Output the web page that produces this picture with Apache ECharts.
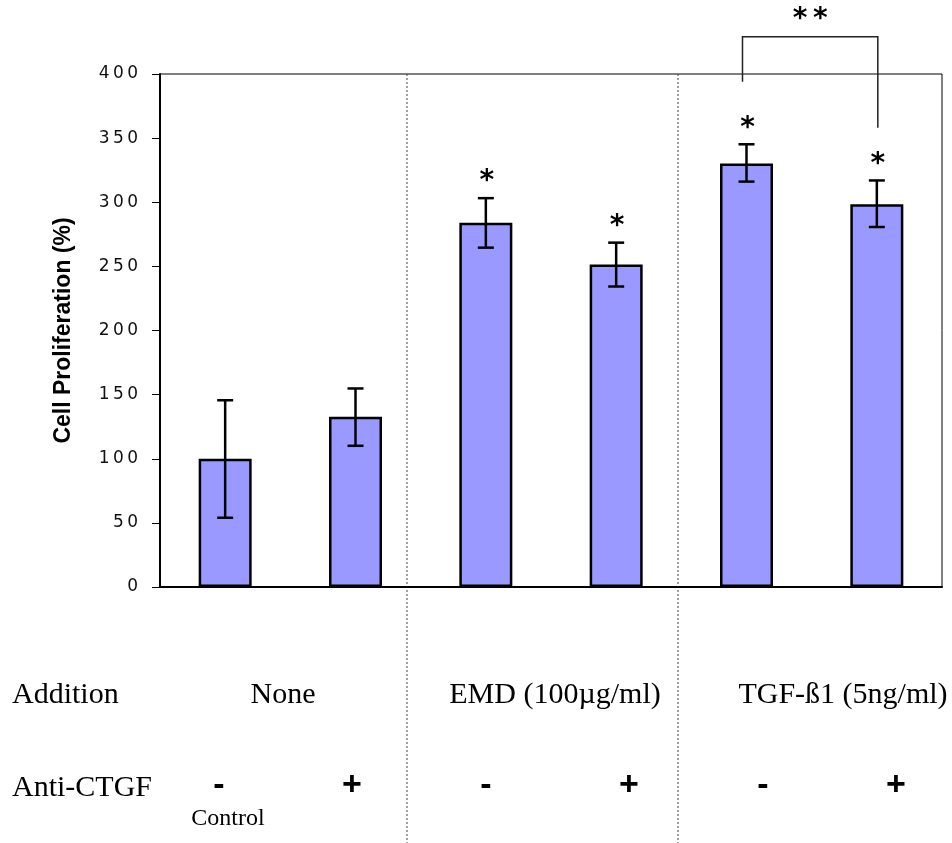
<!DOCTYPE html>
<html>
<head>
<meta charset="utf-8">
<script src="https://cdn.jsdelivr.net/npm/echarts@6/dist/echarts.min.js"></script>
<style>
html,body{margin:0;padding:0;background:#fff;}
#chart{width:952px;height:843px;}
</style>
</head>
<body>
<div id="chart"></div>
<script>
// ---- data ----
const categories = ['None -', 'None +', 'EMD -', 'EMD +', 'TGF -', 'TGF +'];
const means      = [100, 132.7, 284.1, 251.4, 330.2, 298.4];
const errLow     = [54, 110.1, 264.6, 234.3, 316.1, 280.7];
const errHigh    = [145.6, 154.8, 303.2, 268.5, 345.2, 317];
const stars      = ['', '', '*', '*', '*', '*'];
const yTicks     = [0, 50, 100, 150, 200, 250, 300, 350, 400];
const additionLabels = ['None', 'EMD (100µg/ml)', 'TGF-ß1 (5ng/ml)'];
const antiLabels     = ['-', '+', '-', '+', '-', '+'];
const bracket = { from: 4, to: 5, top: 429, leftEnd: 394, rightEnd: 358, label: '*\u2009*' };

const chart = echarts.init(document.getElementById('chart'), null, {renderer: 'canvas'});

const serif = '"Liberation Serif", "Times New Roman", serif';
const sans = '"Liberation Sans", Arial, sans-serif';
const starFont = 'bold 28px "DejaVu Sans", Verdana, sans-serif';

const errData = categories.map((c, i) => [i, errLow[i], errHigh[i], stars[i]]);

// bottom text positions (layout)
const addX = [283, 555, 843];
const antiX = [219, 352, 486, 629, 763, 896];

const graphics = [];
// dotted dividers
[407, 678].forEach(x => graphics.push({
  type: 'line', shape: {x1: x, y1: 74, x2: x, y2: 843},
  style: {stroke: '#444', lineWidth: 1, lineDash: [2, 2]}, z: 0
}));
graphics.push({type: 'text', x: 12, y: 695, style: {text: 'Addition', font: '30px ' + serif, fill: '#000', textAlign: 'left', textVerticalAlign: 'middle'}});
additionLabels.forEach((t, i) => graphics.push({
  type: 'text', x: addX[i], y: 695, style: {text: t, font: '30px ' + serif, fill: '#000', textAlign: 'center', textVerticalAlign: 'middle'}
}));
graphics.push({type: 'text', x: 12, y: 788, style: {text: 'Anti-CTGF', font: '30px ' + serif, fill: '#000', textAlign: 'left', textVerticalAlign: 'middle'}});
antiLabels.forEach((t, i) => graphics.push({
  type: 'text', x: antiX[i], y: 786, style: {text: t, font: 'bold 34px ' + sans, fill: '#000', textAlign: 'center', textVerticalAlign: 'middle'}
}));
graphics.push({type: 'text', x: 228, y: 819, style: {text: 'Control', font: '24px ' + serif, fill: '#000', textAlign: 'center', textVerticalAlign: 'middle'}});

const option = {
  animation: false,
  backgroundColor: '#fff',
  grid: {left: 160, right: 10, top: 74, bottom: 256, show: true, borderColor: '#000', borderWidth: 1},
  xAxis: {
    type: 'category', data: categories,
    axisLine: {lineStyle: {color: '#000', width: 2}},
    axisTick: {show: false}, axisLabel: {show: false}, splitLine: {show: false}
  },
  yAxis: {
    type: 'value', min: yTicks[0], max: yTicks[yTicks.length - 1], interval: 50,
    name: 'Cell Proliferation (%)', nameLocation: 'middle', nameGap: 85,
    nameTextStyle: {fontFamily: sans, fontWeight: 'bold', fontSize: 23, color: '#000'},
    axisLine: {show: true, lineStyle: {color: '#000', width: 2}},
    axisTick: {show: true, length: 8, lineStyle: {color: '#000', width: 1}},
    axisLabel: {margin: 22, fontFamily: '"DejaVu Sans", Verdana, sans-serif', fontSize: 17, color: '#111',
      formatter: v => String(v).split('').join('\u2009')},
    splitLine: {show: false}
  },
  series: [
    {
      type: 'bar', data: means, barWidth: 53,
      itemStyle: {color: '#9999FF', borderColor: '#000', borderWidth: 2.5},
      z: 2
    },
    {
      type: 'custom', data: errData, clip: false, z: 5,
      renderItem: function (params, api) {
        const i = api.value(0);
        const lo = api.coord([i, api.value(1)]);
        const hi = api.coord([i, api.value(2)]);
        const cap = 8;
        const st = {stroke: '#000', lineWidth: 2.5};
        const children = [
          {type: 'line', shape: {x1: hi[0], y1: hi[1], x2: lo[0], y2: lo[1]}, style: st},
          {type: 'line', shape: {x1: hi[0] - cap, y1: hi[1], x2: hi[0] + cap, y2: hi[1]}, style: st},
          {type: 'line', shape: {x1: lo[0] - cap, y1: lo[1], x2: lo[0] + cap, y2: lo[1]}, style: st}
        ];
        const s = errData[params.dataIndex][3];
        if (s) {
          children.push({type: 'text', x: hi[0] + 1, y: hi[1] - 16,
            style: {text: s, font: starFont, fill: '#000', textAlign: 'center', textVerticalAlign: 'middle'}});
        }
        return {type: 'group', children: children};
      }
    },
    {
      type: 'custom', data: [[bracket.from, bracket.to, bracket.top, bracket.leftEnd, bracket.rightEnd]], clip: false, z: 6,
      renderItem: function (params, api) {
        const a = api.coord([api.value(0), api.value(2)]);
        const b = api.coord([api.value(1), api.value(2)]);
        const aEnd = api.coord([api.value(0), api.value(3)]);
        const bEnd = api.coord([api.value(1), api.value(4)]);
        const xl = a[0] - 4, xr = b[0] + 1;
        const st = {stroke: '#222', lineWidth: 1.5, fill: null};
        return {type: 'group', children: [
          {type: 'polyline', shape: {points: [[xl, aEnd[1]], [xl, a[1]], [xr, b[1]], [xr, bEnd[1]]]}, style: st},
          {type: 'text', x: (xl + xr) / 2, y: a[1] - 17,
            style: {text: bracket.label, font: starFont, fill: '#000', textAlign: 'center', textVerticalAlign: 'middle'}}
        ]};
      }
    }
  ],
  graphic: graphics
};
chart.setOption(option);
</script>
</body>
</html>
